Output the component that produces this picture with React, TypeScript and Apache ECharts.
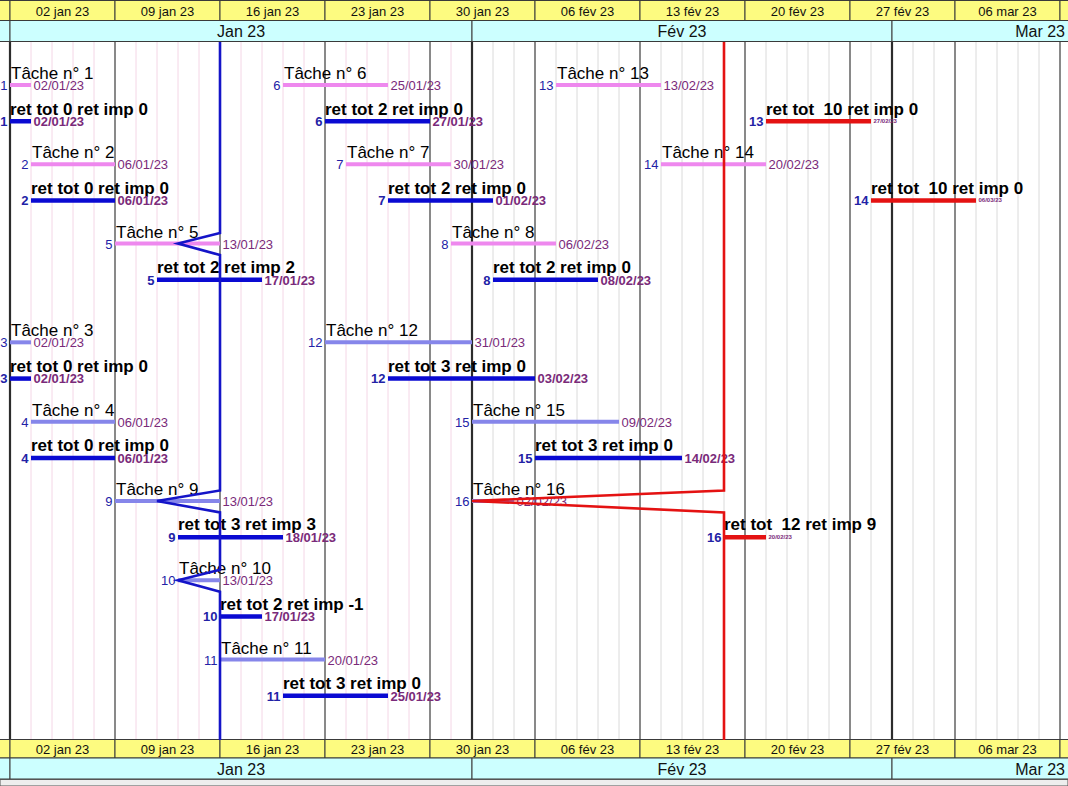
import { useEffect, useRef } from 'react';
import * as echarts from 'echarts';

// ---------- DATA ----------
const taskIds = [1, 2, 3, 4, 5, 6, 7, 8, 9, 10, 11, 12, 13, 14, 15, 16];
const plannedStart = ['2023-01-02', '2023-01-03', '2023-01-02', '2023-01-03', '2023-01-09', '2023-01-19', '2023-01-24', '2023-01-31', '2023-01-09', '2023-01-12', '2023-01-16', '2023-01-23', '2023-02-07', '2023-02-14', '2023-02-01', '2023-02-01'];
const plannedEnd = ['2023-01-02', '2023-01-06', '2023-01-02', '2023-01-06', '2023-01-13', '2023-01-25', '2023-01-30', '2023-02-06', '2023-01-13', '2023-01-13', '2023-01-20', '2023-01-31', '2023-02-13', '2023-02-20', '2023-02-09', '2023-02-02'];
const actualStart = ['2023-01-02', '2023-01-03', '2023-01-02', '2023-01-03', '2023-01-11', '2023-01-23', '2023-01-26', '2023-02-02', '2023-01-12', '2023-01-16', '2023-01-19', '2023-01-26', '2023-02-21', '2023-02-28', '2023-02-06', '2023-02-17'];
const actualEnd = ['2023-01-02', '2023-01-06', '2023-01-02', '2023-01-06', '2023-01-17', '2023-01-27', '2023-02-01', '2023-02-08', '2023-01-18', '2023-01-17', '2023-01-25', '2023-02-03', '2023-02-27', '2023-03-06', '2023-02-14', '2023-02-20'];
const retTot = [0, 0, 0, 0, 2, 2, 2, 2, 3, 2, 3, 3, 10, 10, 3, 12];
const retImp = [0, 0, 0, 0, 2, 0, 0, 0, 3, -1, 0, 0, 0, 0, 0, 9];
const taskLane = [0, 1, 3, 4, 2, 0, 1, 2, 5, 6, 7, 3, 0, 1, 4, 5];
const taskGroup = [0, 0, 1, 1, 0, 0, 0, 0, 1, 1, 1, 1, 0, 0, 1, 1];

const weekLabels = ['26 déc 22', '02 jan 23', '09 jan 23', '16 jan 23', '23 jan 23', '30 jan 23', '06 fév 23', '13 fév 23', '20 fév 23', '27 fév 23', '06 mar 23', '13 mar 23'];
const weekStarts = ['2022-12-26', '2023-01-02', '2023-01-09', '2023-01-16', '2023-01-23', '2023-01-30', '2023-02-06', '2023-02-13', '2023-02-20', '2023-02-27', '2023-03-06', '2023-03-13', '2023-03-20'];
const monthLabels = ['Déc 22', 'Jan 23', 'Fév 23', 'Mar 23'];
const monthStarts = ['2022-12-01', '2023-01-01', '2023-02-01', '2023-03-01', '2023-04-01'];

const statusDates = ['2023-01-16', '2023-02-17'];
const progressTasks = [[5, 9, 10], [16]];
const progressDates = [['2023-01-12', '2023-01-11', '2023-01-12'], ['2023-02-01']];

// ---------- HELPERS ----------
const FONT = '"Liberation Sans", Arial, sans-serif';
const DAY_MS = 86400000;
function wd(s: string): number {
  const [y, m, d] = s.split('-').map(Number);
  const days = Math.round((Date.UTC(y, m - 1, d) - Date.UTC(2023, 0, 2)) / DAY_MS);
  const w = Math.floor(days / 7);
  const r = days - w * 7;
  return w * 5 + Math.min(r, 5);
}
function fmt(s: string): string {
  const [y, m, d] = s.split('-');
  return `${d}/${m}/${y.slice(2)}`;
}

const W = 1068;
const H = 786;
const DAY_PX = 21;
const X_MIN = -10 / DAY_PX;
const X_MAX = X_MIN + W / DAY_PX;
const GRID_TOP = 42;
const GRID_BOTTOM = 740;
const LANE_PX = 79.3;
const Y_MIN = -(85 - GRID_TOP) / LANE_PX;
const Y_MAX = Y_MIN + (GRID_BOTTOM - GRID_TOP) / LANE_PX;
const GROUP_GAP = 0.245;
const ACTUAL_DY = 36;

const laneValue = (i: number) => taskLane[i] + taskGroup[i] * GROUP_GAP;
const monthIdx = monthStarts.map(wd);

const PINK = '#ee88ee';
const LAVENDER = '#8686ea';
const BLUE = '#0a0ad2';
const RED = '#e41212';
const NUM_COLOR = '#2222a6';
const DATE_COLOR = '#7a2a7a';

export default function App() {
  const ref = useRef<HTMLDivElement>(null);
  useEffect(() => {
    if (!ref.current) return;
    const chart = echarts.init(ref.current, null, { renderer: 'svg' });

    const dayData: number[][] = [];
    for (let d = -6; d <= 52; d++) dayData.push([d]);

    const option: any = {
      animation: false,
      backgroundColor: '#ffffff',
      grid: { left: 0, right: 0, top: GRID_TOP, bottom: H - GRID_BOTTOM },
      xAxis: { type: 'value', min: X_MIN, max: X_MAX, show: false },
      yAxis: { type: 'value', min: Y_MIN, max: Y_MAX, inverse: true, show: false },
      series: [
        // day / week / month vertical lines
        {
          type: 'custom',
          silent: true,
          data: dayData,
          renderItem: (params: any, api: any) => {
            const d = api.value(0);
            const x = api.coord([d, 0])[0];
            const isMonth = monthIdx.includes(d);
            const isWeek = ((d % 5) + 5) % 5 === 0;
            let stroke = d >= monthIdx[1] && d < monthIdx[2] ? '#f4d6e6' : '#dadada';
            let lw = 1;
            if (isWeek) { stroke = '#4a4a4a'; lw = 1.3; }
            if (isMonth) { stroke = '#2c2c2c'; lw = 2.2; }
            return {
              type: 'line',
              shape: { x1: x, y1: GRID_TOP, x2: x, y2: GRID_BOTTOM },
              style: { stroke, lineWidth: lw },
            };
          },
        },
        // week header cells
        {
          type: 'custom',
          silent: true,
          data: weekLabels.map((_, i) => [wd(weekStarts[i]), wd(weekStarts[i + 1])]),
          renderItem: (params: any, api: any) => {
            const x0 = api.coord([api.value(0), 0])[0];
            const x1 = api.coord([api.value(1), 0])[0];
            const label = weekLabels[params.dataIndex];
            const cell = (y: number, h: number) => ({
              type: 'rect',
              shape: { x: x0, y, width: x1 - x0, height: h },
              style: { fill: '#fdfb80', stroke: '#3a3a3a', lineWidth: 1 },
            });
            const txt = (y: number) => ({
              type: 'text',
              x: (x0 + x1) / 2,
              y,
              style: { text: label, fill: '#111', fontSize: 13, fontFamily: FONT, align: 'center', verticalAlign: 'middle' },
            });
            return { type: 'group', children: [cell(0.5, 20), txt(11.5), cell(739.5, 18.5), txt(749.5)] };
          },
        },
        // month header cells
        {
          type: 'custom',
          silent: true,
          data: monthLabels.map((_, i) => [wd(monthStarts[i]), wd(monthStarts[i + 1])]),
          renderItem: (params: any, api: any) => {
            const x0 = api.coord([api.value(0), 0])[0];
            const x1 = api.coord([api.value(1), 0])[0];
            const label = monthLabels[params.dataIndex];
            const left = Math.max(x0, 0);
            const right = Math.min(x1, W);
            const children: any[] = [];
            const cell = (y: number, h: number) => ({
              type: 'rect',
              shape: { x: x0, y, width: x1 - x0, height: h },
              style: { fill: '#ccffff', stroke: '#3a3a3a', lineWidth: 1 },
            });
            children.push(cell(20.5, 21), cell(758, 21));
            if (right - left > 40) {
              const overflow = x1 > W;
              const tx = overflow ? W - 3 : (left + right) / 2;
              const align = overflow ? 'right' : 'center';
              [31.5, 769].forEach((y) =>
                children.push({
                  type: 'text',
                  x: tx,
                  y,
                  style: { text: label, fill: '#111', fontSize: 16, fontFamily: FONT, align, verticalAlign: 'middle' },
                })
              );
            }
            return { type: 'group', children };
          },
        },
        // bottom gray strip
        {
          type: 'custom',
          silent: true,
          data: [[0]],
          renderItem: () => ({
            type: 'rect',
            shape: { x: 0, y: 779.5, width: W, height: H - 779.5 },
            style: { fill: '#eeeeee', stroke: '#555', lineWidth: 1 },
          }),
        },
        // planned bars
        {
          type: 'custom',
          silent: true,
          data: taskIds.map((_, i) => [wd(plannedStart[i]), wd(plannedEnd[i]) + 1, laneValue(i)]),
          renderItem: (params: any, api: any) => {
            const i = params.dataIndex;
            const [x0, y] = api.coord([api.value(0), api.value(2)]);
            const x1 = api.coord([api.value(1), api.value(2)])[0];
            const color = taskGroup[i] === 0 ? PINK : LAVENDER;
            return {
              type: 'group',
              children: [
                { type: 'rect', shape: { x: x0, y: y - 2, width: x1 - x0, height: 4 }, style: { fill: color } },
                { type: 'text', x: x0 + 1, y: y - 11.5, style: { text: 'Tâche n° ' + taskIds[i], fill: '#000', fontSize: 17, fontFamily: FONT, align: 'left', verticalAlign: 'middle' } },
                { type: 'text', x: x0 - 2.5, y: y + 0.5, style: { text: String(taskIds[i]), fill: NUM_COLOR, fontSize: 13, fontFamily: FONT, align: 'right', verticalAlign: 'middle' } },
                { type: 'text', x: x1 + 2.5, y: y + 0.5, style: { text: fmt(plannedEnd[i]), fill: DATE_COLOR, fontSize: 13, fontFamily: FONT, align: 'left', verticalAlign: 'middle' } },
              ],
            };
          },
        },
        // actual bars
        {
          type: 'custom',
          silent: true,
          data: taskIds.map((_, i) => [wd(actualStart[i]), wd(actualEnd[i]) + 1, laneValue(i)]),
          renderItem: (params: any, api: any) => {
            const i = params.dataIndex;
            const [x0, yp] = api.coord([api.value(0), api.value(2)]);
            const y = yp + ACTUAL_DY;
            const x1 = api.coord([api.value(1), api.value(2)])[0];
            const late = retTot[i] >= 10;
            const color = late ? RED : BLUE;
            const label = `ret tot ${late ? ' ' : ''}${retTot[i]} ret imp ${retImp[i]}`;
            return {
              type: 'group',
              children: [
                { type: 'rect', shape: { x: x0, y: y - 2, width: x1 - x0, height: 4.5 }, style: { fill: color } },
                { type: 'text', x: x0, y: y - 12, style: { text: label, fill: '#000', fontSize: 17, fontWeight: 'bold', fontFamily: FONT, align: 'left', verticalAlign: 'middle' } },
                { type: 'text', x: x0 - 2.5, y: y + 0.5, style: { text: String(taskIds[i]), fill: NUM_COLOR, fontSize: 13, fontWeight: 'bold', fontFamily: FONT, align: 'right', verticalAlign: 'middle' } },
                { type: 'text', x: x1 + 2.5, y: y + (late ? 0 : 0.5), style: { text: fmt(actualEnd[i]), fill: DATE_COLOR, fontSize: late ? 6 : 13, fontWeight: 'bold', fontFamily: FONT, align: 'left', verticalAlign: 'middle' } },
              ],
            };
          },
        },
        // progress lines
        ...statusDates.map((sd, k) => ({
          type: 'custom',
          silent: true,
          data: [[wd(sd)]],
          renderItem: (params: any, api: any) => {
            const sx = api.coord([api.value(0), 0])[0];
            const pts: number[][] = [[sx, GRID_TOP]];
            progressTasks[k].forEach((tid, j) => {
              const i = taskIds.indexOf(tid);
              const y = api.coord([0, laneValue(i)])[1];
              const px = api.coord([wd(progressDates[k][j]), 0])[0];
              pts.push([sx, y - 10.5], [px, y], [sx, y + 11.5]);
            });
            pts.push([sx, GRID_BOTTOM]);
            return {
              type: 'polyline',
              shape: { points: pts },
              style: { stroke: k === 0 ? '#1414c8' : '#e41212', lineWidth: 2.6, fill: 'none' },
            };
          },
        })),
      ],
    };
    chart.setOption(option);
    return () => chart.dispose();
  }, []);
  return <div ref={ref} style={{ position: 'absolute', left: 0, top: 0, width: W, height: H }} />;
}
